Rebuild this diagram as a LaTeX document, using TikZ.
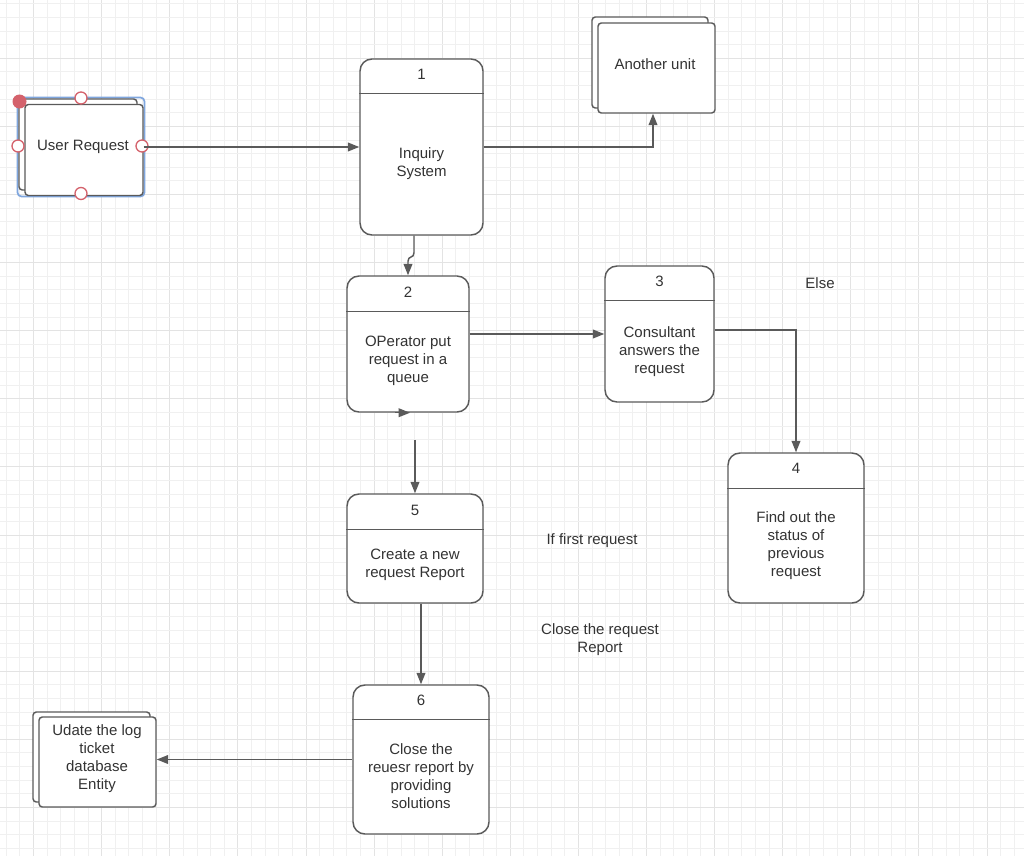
\documentclass[tikz,border=0pt]{standalone}
\usepackage{fontspec}
\setmainfont{Liberation Sans}
\usetikzlibrary{arrows.meta,calc}
\definecolor{ln}{HTML}{5A5A5A}
\definecolor{tx}{HTML}{333333}
\definecolor{gminor}{HTML}{F0F0F0}
\definecolor{gmajor}{HTML}{E3E3E3}
\definecolor{selblue}{HTML}{7FA6DE}
\definecolor{handle}{HTML}{D4626C}
\begin{document}
\begin{tikzpicture}[x=0.75pt,y=-0.75pt,
  wh/.style 2 args={minimum width=#1*0.75pt, minimum height=#2*0.75pt},
  proc/.style={draw=ln, line width=1.1pt, rounded corners=9pt, fill=white, inner sep=0pt},
  ent/.style={draw=ln, line width=1.1pt, rounded corners=2.5pt, fill=white, inner sep=0pt},
  lbl/.style={text=tx, align=center, inner sep=0pt, font=\fontsize{11.25}{13.5}\selectfont},
  arr/.style={draw=ln, line width=1.1pt, -{Triangle[length=8.5pt,width=6.5pt]}},
  conn/.style={draw=ln, line width=1.1pt},
  hdl/.style={circle, draw=handle, line width=1pt, fill=white, minimum size=9pt, inner sep=0pt},
  hdlf/.style={circle, fill=handle, minimum size=10.5pt, inner sep=0pt},
]
\useasboundingbox (0,0) rectangle (1024,856);
\fill[white] (0,0) rectangle (1024,856);
% grid
\foreach \i in {0,...,75} {
  \pgfmathtruncatemacro{\m}{mod(\i,5)}
  \ifnum\m=2
    \draw[gmajor, line width=0.75pt] ({6.36+\i*13.62},0) -- ({6.36+\i*13.62},856);
  \else
    \draw[gminor, line width=0.75pt] ({6.36+\i*13.62},0) -- ({6.36+\i*13.62},856);
  \fi
}
\foreach \j in {0,...,63} {
  \pgfmathtruncatemacro{\m}{mod(\j,5)}
  \ifnum\m=4
    \draw[gmajor, line width=0.75pt] (0,{3.82+\j*13.62}) -- (1024,{3.82+\j*13.62});
  \else
    \draw[gminor, line width=0.75pt] (0,{3.82+\j*13.62}) -- (1024,{3.82+\j*13.62});
  \fi
}

% User Request (selected)
\draw[selblue, line width=1.3pt, rounded corners=3pt] (17.5,97.5) rectangle (144.5,196.5);
\node[ent, wh={118}{91}] (urb) at (78,144.5) {};
\node[ent, wh={118}{91}] (ur) at (84,150) {};
\node[lbl] (urt) at (83,147) {User Request};
\node[hdl] (h1) at (81,98) {};
\node[hdl] (h2) at (18,146) {};
\node[hdl] (h3) at (142,146) {};
\node[hdl] (h4) at (81,193.5) {};
\node[hdlf] (h0) at (19.5,101.5) {};

% Another unit
\node[ent, wh={116}{91}] (aub) at (650,62.5) {};
\node[ent, wh={117}{90}] (au) at (656.5,68) {};
\node[lbl] (aut) at (655,64) {Another unit};

% Update entity
\node[ent, wh={117}{90}] (updb) at (91.5,757) {};
\node[ent, wh={117}{90}] (upd) at (97.5,762) {};
\node[lbl] (updt) at (97,758.5) {Udate the log\\ticket\\database\\Entity};

% Process 1
\node[proc, wh={123}{176}] (p1) at (421.5,147) {};
\draw[conn] ($(p1.north west)+(0,35)$) -- ($(p1.north east)+(0,35)$);
\node[lbl] (p1n) at ($(p1.north)+(0,16)$) {1};
\node[lbl] (p1t) at ($(p1.north)+(0,105.5)$) {Inquiry\\System};

% Process 2
\node[proc, wh={122}{136}] (p2) at (408,344) {};
\draw[conn] ($(p2.north west)+(0,36)$) -- ($(p2.north east)+(0,36)$);
\node[lbl] (p2n) at ($(p2.north)+(0,16.5)$) {2};
\node[lbl] (p2t) at ($(p2.north)+(0,86)$) {OPerator put\\request in a\\queue};

% Process 3
\node[proc, wh={109}{136}] (p3) at (659.5,334) {};
\draw[conn] ($(p3.north west)+(0,35)$) -- ($(p3.north east)+(0,35)$);
\node[lbl] (p3n) at ($(p3.north)+(0,16.5)$) {3};
\node[lbl] (p3t) at ($(p3.north)+(0,86)$) {Consultant\\answers the\\request};

% Process 4
\node[proc, wh={136}{150}] (p4) at (796,528) {};
\draw[conn] ($(p4.north west)+(0,36)$) -- ($(p4.north east)+(0,36)$);
\node[lbl] (p4n) at ($(p4.north)+(0,16.5)$) {4};
\node[lbl] (p4t) at ($(p4.north)+(0,93)$) {Find out the\\status of\\previous\\request};

% Process 5
\node[proc, wh={136}{109}] (p5) at (415,548.5) {};
\draw[conn] ($(p5.north west)+(0,36)$) -- ($(p5.north east)+(0,36)$);
\node[lbl] (p5n) at ($(p5.north)+(0,17.5)$) {5};
\node[lbl] (p5t) at ($(p5.north)+(0,72)$) {Create a new\\request Report};

% Process 6
\node[proc, wh={136}{149}] (p6) at (421,759.5) {};
\draw[conn] ($(p6.north west)+(0,35)$) -- ($(p6.north east)+(0,35)$);
\node[lbl] (p6n) at ($(p6.north)+(0,16.5)$) {6};
\node[lbl] (p6t) at ($(p6.north)+(0,92)$) {Close the\\reuesr report by\\providing\\solutions};

% free labels
\node[lbl] (else) at (820,283) {Else};
\node[lbl] (iff) at (592,541) {If first request};
\node[lbl] (clo) at (600,640) {Close the request\\Report};

% connectors
\draw[arr] (p1.west -| ur.east) -- (p1.west);
\draw[arr] (p1.east) -| (au.south -| 653,0);
\draw[arr] ($(p1.south)+(-7.5,0)$) -- ++(0,17) .. controls ++(0,6) and ($(p2.north)+(0,-20)$) .. ($(p2.north)+(0,-14)$) -- (p2.north);
\draw[arr] ($(p2.south)+(-13,0)$) -- ($(p2.south)+(2,0)$);
\draw[arr] (p3.west -| p2.east) -- (p3.west);
\draw[arr] ($(p3.east)+(0,-4)$) -| (p4.north);
\coordinate (s5) at (415,440);
\draw[arr] (s5) -- (p5.north);
\draw[arr] (p6.north |- p5.south) -- (p6.north);
\draw[arr] (p6.west) -- (p6.west -| upd.east);
\end{tikzpicture}
\end{document}
